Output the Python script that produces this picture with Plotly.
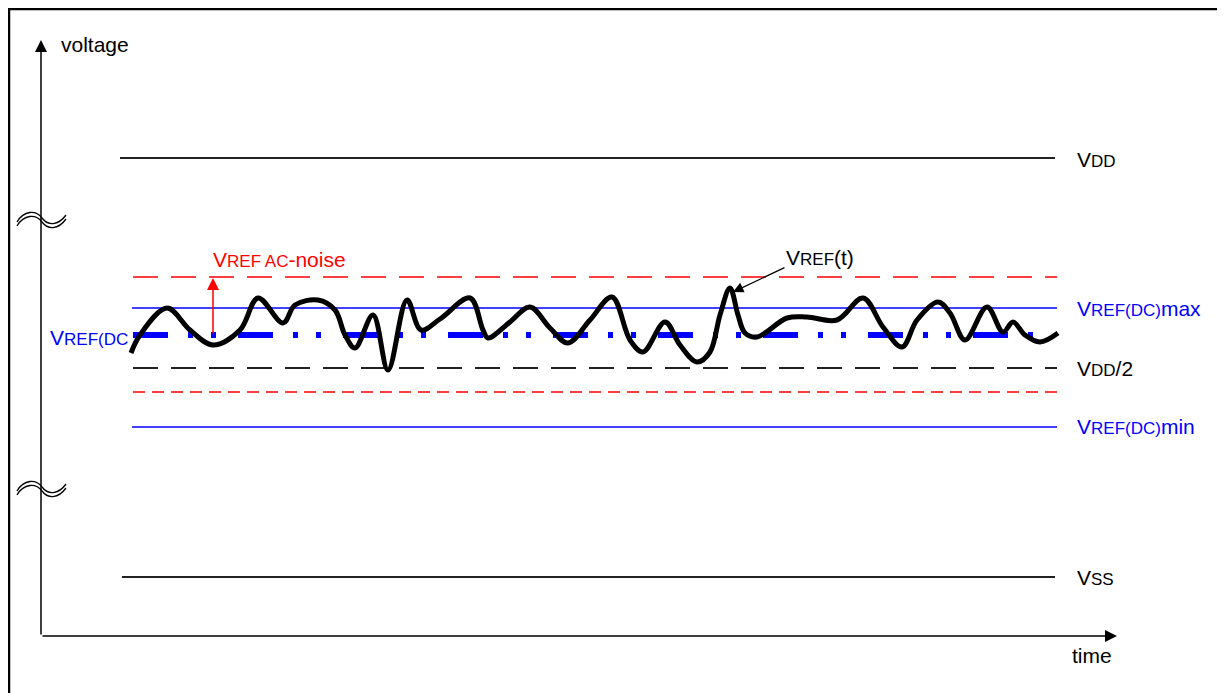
import plotly.graph_objects as go

# canvas units = pixels of the drawing (y grows downwards)
W, H = 1225, 693
PAGE_MARGIN = 8  # body margin of the html page

# level lines (y positions)
vdd_level = 158
vss_level = 577
ac_noise_hi = 277
dc_max_level = 308
dc_nominal = 335
half_vdd = 368
ac_noise_lo = 392
dc_min_level = 427

rail_x = [120, 1055]
band_x = [133, 1057]

# VREF(t) waveform
t_vals = [131, 140, 167, 190, 213, 240, 258, 283, 295, 318, 335, 345, 355, 373,
          388, 407, 421, 440, 470, 483, 488, 510, 530, 550, 568, 590, 612, 630,
          643, 665, 680, 697, 710, 720, 730, 738, 745, 757, 787, 807, 837, 863,
          883, 902, 917, 938, 950, 965, 987, 1003, 1013, 1025, 1040, 1058]
v_vals = [353, 335, 308, 330, 345, 330, 298, 323, 305, 300, 310, 335, 348, 315,
          370, 300, 330, 319, 298, 330, 338, 322, 307, 328, 343, 320, 297, 340,
          352, 322, 345, 362, 352, 315, 288, 315, 333, 337, 318, 317, 320, 298,
          327, 347, 320, 302, 313, 340, 307, 332, 322, 335, 342, 333]

# axis geometry
axis_origin = (41, 636)
x_axis_end = 1117
y_axis_end = 40
break_marks = [218, 487]

FONT = 'Liberation Sans, Arial, sans-serif'
BIG, SMALL = 21, 17
BLUE, RED, BLACK = '#0000ff', '#ff0000', '#000000'


def sm(s):
    return f"<span style='font-size:{SMALL}px'>{s}</span>"


fig = go.Figure()


def hline(y, xs, color, width, dash='solid'):
    fig.add_trace(go.Scatter(x=xs, y=[y, y], mode='lines',
                             line=dict(color=color, width=width, dash=dash),
                             hoverinfo='skip'))


hline(vdd_level, rail_x, '#222222', 2)
hline(vss_level, [122, 1055], '#222222', 2)
hline(ac_noise_hi, band_x, RED, 1.5, '25px,13px')
hline(ac_noise_lo, band_x, RED, 1.5, '12px,7px')
hline(half_vdd, band_x, '#222222', 1.8, '25px,13px')
hline(dc_max_level, [132, 1057], BLUE, 1.5)
hline(dc_min_level, [132, 1057], BLUE, 1.5)
hline(dc_nominal, [133, 1040], BLUE, 6, '35px,20px,5px,18px,5px,22px')

fig.add_trace(go.Scatter(x=t_vals, y=v_vals, mode='lines',
                         line=dict(color=BLACK, width=5, shape='spline', smoothing=1.0),
                         hoverinfo='skip'))

shapes = [dict(type='rect', xref='x', yref='y', x0=9, x1=1220, y0=9, y1=700,
               line=dict(color=BLACK, width=2.5), layer='below')]
for yb in break_marks:
    for off in (0, 4):
        y0 = yb + off
        shapes.append(dict(
            type='path', xref='x', yref='y',
            path=f'M 17,{y0 + 4} C 24,{y0 - 8} 36,{y0 - 8} 42,{y0} '
                 f'S 58,{y0 + 8} 66,{y0 - 3}',
            line=dict(color=BLACK, width=1.3)))


def arrow(x, y, ax, ay, color, width=1.5, size=1.6):
    return dict(x=x, y=y, ax=ax, ay=ay, xref='x', yref='y', axref='x', ayref='y',
                text='', showarrow=True, arrowhead=2, arrowsize=size,
                arrowwidth=width, arrowcolor=color, standoff=0, startstandoff=0)


def label(x, y, text, color=BLACK):
    return dict(x=x, y=y, xref='x', yref='y', text=text, showarrow=False,
                xanchor='left', yanchor='middle', borderpad=0,
                font=dict(family=FONT, size=BIG, color=color))


ox, oy = axis_origin
annotations = [
    arrow(ox, y_axis_end, ox, oy, BLACK),
    arrow(x_axis_end, oy, ox, oy, BLACK),
    arrow(213, ac_noise_hi + 1, 213, dc_nominal, RED),
    arrow(733, 292, 786, 267, BLACK, 1.3),
    label(60, 44, 'voltage'),
    label(1071, 655, 'time'),
    label(1076, vdd_level + 1, 'V' + sm('DD')),
    label(1076, dc_max_level, 'V' + sm('REF(DC)') + 'max', BLUE),
    label(1076, half_vdd, 'V' + sm('DD') + '/2'),
    label(1076, dc_min_level - 1, 'V' + sm('REF(DC)') + 'min', BLUE),
    label(1076, vss_level, 'V' + sm('SS')),
    label(212, 259, 'V' + sm('REF AC') + '-noise', RED),
    label(49, 337, 'V' + sm('REF(DC'), BLUE),
    label(785, 257, 'V' + sm('REF') + '(t)'),
]

# the page adds an 8px body margin, so the axes start at that offset
fig.update_layout(
    width=W - PAGE_MARGIN, height=H - PAGE_MARGIN,
    margin=dict(l=0, r=0, t=0, b=0),
    showlegend=False,
    plot_bgcolor='white',
    paper_bgcolor='white',
    xaxis=dict(range=[PAGE_MARGIN, W], visible=False, fixedrange=True),
    yaxis=dict(range=[H, PAGE_MARGIN], visible=False, fixedrange=True),
    shapes=shapes,
    annotations=annotations,
)

fig.write_html("out.html")
